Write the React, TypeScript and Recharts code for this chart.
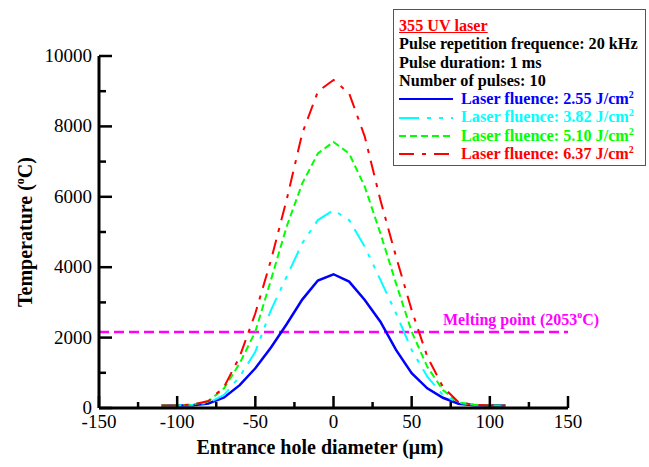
import React from 'react';
import { LineChart, Line, XAxis, YAxis, ReferenceLine, Legend } from 'recharts';

const diameters = [-110, -100, -90, -80, -70, -60, -50, -40, -30, -20, -10, 0, 10, 20, 30, 40, 50, 60, 70, 80, 90, 100, 110];

const fluence255 = [70, 70, 80, 130, 300, 650, 1130, 1720, 2380, 3080, 3620, 3800, 3590, 3070, 2450, 1650, 990, 560, 290, 120, 80, 70, 70];
const fluence382 = [70, 70, 90, 150, 370, 890, 1600, 2780, 3730, 4680, 5340, 5620, 5340, 4580, 3640, 2690, 1650, 890, 370, 150, 90, 70, 70];
const fluence510 = [70, 70, 100, 190, 560, 1270, 2170, 3640, 5150, 6380, 7230, 7560, 7230, 6290, 4960, 3540, 2170, 1170, 510, 160, 90, 70, 70];
const fluence637 = [70, 70, 100, 200, 600, 1460, 2690, 4200, 5910, 7800, 8990, 9320, 8940, 7710, 5910, 4300, 2780, 1460, 600, 160, 90, 70, 70];

const xTicks = [-150, -125, -100, -75, -50, -25, 0, 25, 50, 75, 100, 125, 150];
const yTicks = [0, 1000, 2000, 3000, 4000, 5000, 6000, 7000, 8000, 9000, 10000];

const meltingLine = 2160;

const data = diameters.map((d, i) => ({
  d,
  f1: fluence255[i],
  f2: fluence382[i],
  f3: fluence510[i],
  f4: fluence637[i],
}));

const serif = '"Liberation Serif", "Times New Roman", serif';

const XTick = (props: any) => {
  const { x, y, payload } = props;
  const major = payload.value % 50 === 0;
  return (
    <g>
      <line x1={x} x2={x} y1={y} y2={y - (major ? 12 : 6)} stroke="#000" strokeWidth={2.5} />
      {major && (
        <text x={x} y={y + 20} textAnchor="middle" fontFamily={serif} fontSize={19} fill="#000">
          {payload.value}
        </text>
      )}
    </g>
  );
};

const YTick = (props: any) => {
  const { x, y, payload } = props;
  const major = payload.value % 2000 === 0;
  return (
    <g>
      <line x1={x} x2={x + (major ? 13 : 7)} y1={y} y2={y} stroke="#000" strokeWidth={2.5} />
      {major && (
        <text x={x - 7} y={y + 6} textAnchor="end" fontFamily={serif} fontSize={19} fill="#000">
          {payload.value}
        </text>
      )}
    </g>
  );
};

const rowStyle = { height: 18.3, lineHeight: '18.3px' };

const LegendBox = (props: any) => {
  const { payload } = props;
  return (
    <div
      style={{
        boxSizing: 'border-box',
        width: 253,
        height: 157,
        border: '1.5px solid #555',
        background: '#fff',
        padding: '7px 4px 2px 5px',
        fontFamily: serif,
        fontWeight: 'bold',
        fontSize: 16.2,
        color: '#000',
        whiteSpace: 'nowrap',
      }}
    >
      <div style={{ ...rowStyle, color: '#ff0000', textDecoration: 'underline' }}>355 UV laser</div>
      <div style={rowStyle}>Pulse repetition frequence: 20 kHz</div>
      <div style={rowStyle}>Pulse duration: 1 ms</div>
      <div style={rowStyle}>Number of pulses: 10</div>
      {(payload || []).map((p: any) => (
        <div key={p.value} style={{ ...rowStyle, display: 'flex', alignItems: 'center', color: p.color }}>
          <svg width={62} height={10} style={{ flex: 'none' }}>
            <line
              x1={0}
              x2={54}
              y1={5}
              y2={5}
              stroke={p.color}
              strokeWidth={2}
              strokeDasharray={p.payload && p.payload.strokeDasharray}
            />
          </svg>
          <span>
            {p.value}
            <sup style={{ fontSize: 10, lineHeight: 0 }}>2</sup>
          </span>
        </div>
      ))}
    </div>
  );
};

const MeltLabel = (props: any) => {
  const { viewBox } = props;
  return (
    <text x={viewBox.x + 344} y={viewBox.y - 7} fontFamily={serif} fontWeight="bold" fontSize={16} fill="#ff00ff">
      Melting point (2053
      <tspan dy={-7} fontSize={10}>o</tspan>
      <tspan dy={7}>C)</tspan>
    </text>
  );
};

export default function App() {
  return (
    <div style={{ position: 'absolute', left: 0, top: 0, width: 649, height: 467, background: '#fff' }}>
      <LineChart width={649} height={467} data={data} margin={{ top: 56, right: 81, left: 98, bottom: 58 }}>
        <XAxis
          dataKey="d"
          type="number"
          domain={[-150, 150]}
          ticks={xTicks}
          interval={0}
          height={1}
          tickSize={0}
          tickMargin={0}
          tickLine={false}
          tick={<XTick />}
          axisLine={{ stroke: '#000', strokeWidth: 3 }}
        />
        <YAxis
          type="number"
          domain={[0, 10000]}
          ticks={yTicks}
          interval={0}
          width={1}
          tickSize={0}
          tickMargin={0}
          tickLine={false}
          tick={<YTick />}
          axisLine={{ stroke: '#000', strokeWidth: 3 }}
        />
        <ReferenceLine
          y={meltingLine}
          stroke="#ff00ff"
          strokeWidth={2.5}
          strokeDasharray="10 5"
          label={<MeltLabel />}
        />
        <Line dataKey="f1" name="Laser fluence: 2.55 J/cm" type="linear" stroke="#0000ff" strokeWidth={2.5} dot={false} isAnimationActive={false} />
        <Line dataKey="f2" name="Laser fluence: 3.82 J/cm" type="linear" stroke="#00ffff" strokeWidth={2} strokeDasharray="20 8 4 8 4 8" dot={false} isAnimationActive={false} />
        <Line dataKey="f3" name="Laser fluence: 5.10 J/cm" type="linear" stroke="#00ff00" strokeWidth={2} strokeDasharray="7 4" dot={false} isAnimationActive={false} />
        <Line dataKey="f4" name="Laser fluence: 6.37 J/cm" type="linear" stroke="#ff0000" strokeWidth={2} strokeDasharray="15 8 4 8" dot={false} isAnimationActive={false} />
        <Legend
          layout="vertical"
          align="center"
          verticalAlign="middle"
          content={<LegendBox />}
          wrapperStyle={{ left: 393, top: 9, right: 'auto', bottom: 'auto', width: 'auto' }}
        />
      </LineChart>
      <div
        style={{
          position: 'absolute',
          left: 25,
          top: 232,
          transform: 'translate(-50%, -50%) rotate(-90deg)',
          fontFamily: serif,
          fontWeight: 'bold',
          fontSize: 20,
          whiteSpace: 'nowrap',
        }}
      >
        Temperature (<sup style={{ fontSize: 12 }}>o</sup>C)
      </div>
      <div
        style={{
          position: 'absolute',
          left: 320,
          top: 447,
          transform: 'translate(-50%, -50%)',
          fontFamily: serif,
          fontWeight: 'bold',
          fontSize: 20,
          whiteSpace: 'nowrap',
        }}
      >
        Entrance hole diameter (μm)
      </div>
    </div>
  );
}
